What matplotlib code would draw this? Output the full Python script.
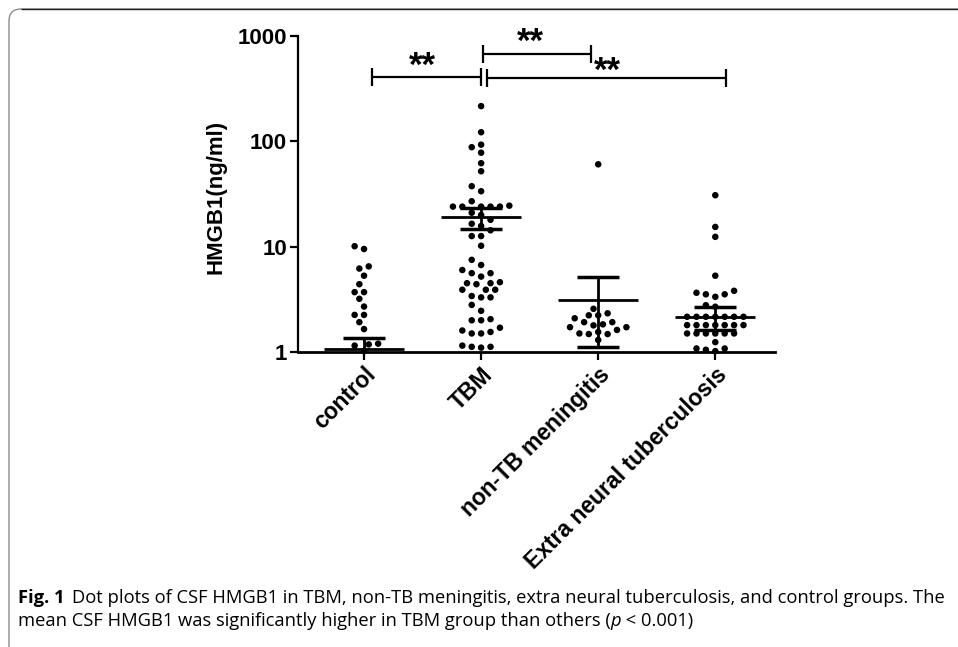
import numpy as np
import matplotlib
matplotlib.use('Agg')
import matplotlib.pyplot as plt
from matplotlib.patches import FancyBboxPatch

# ---------------- data ----------------
categories = ['control', 'TBM', 'non-TB meningitis', 'Extra neural tuberculosis']

control_vals = [10.1, 9.5, 6.5, 6.2, 5.3, 4.4, 3.7, 3.7, 3.2, 2.7, 2.25, 2.25,
                1.92, 1.65, 1.2, 1.18, 1.15, 1.02]
tbm_vals = [216, 122, 93, 88, 78, 62, 52, 37.5, 33.6, 27, 24.5, 24, 24, 24, 24, 24,
            21, 20, 18, 16.5, 15.7, 14.3, 12.6, 12.6, 10.2, 7.5, 6.7, 6.0, 5.6, 5.6,
            5.2, 4.6, 4.5, 4.4, 4.5, 3.9, 3.9, 3.9, 3.3, 3.3, 3.4, 2.8, 2.46, 2.0,
            2.0, 2.05, 1.7, 1.6, 1.5, 1.5, 1.55, 1.15, 1.12, 1.1, 1.12]
nontb_vals = [60.5, 2.57, 2.23, 2.23, 2.33, 2.09, 1.92, 1.83, 1.72, 1.72, 1.79, 1.92,
              1.62, 1.5, 1.55, 1.48, 1.48, 1.3]
extra_vals = [30.8, 15.4, 12.4, 5.3, 3.65, 3.53, 3.34, 3.53, 3.81, 2.69, 2.78,
              2.16, 2.16, 2.16, 2.16, 2.16, 2.16, 2.16,
              1.80, 1.80, 1.80, 1.80, 1.80, 1.80, 1.80,
              1.50, 1.50, 1.50, 1.50, 1.50, 1.50,
              1.24, 1.08, 1.02, 1.05, 1.08]
group_values = [control_vals, tbm_vals, nontb_vals, extra_vals]
group_means = [1.07, 19.1, 3.15, 2.16]
group_sems = [0.29, 4.4, 2.03, 0.53]

y_ticks = [1, 10, 100, 1000]
y_tick_labels = ['1', '10', '100', '1000']

sig_labels = ['**', '**', '**']

caption_bold = 'Fig. 1'
caption_line1 = 'Dot plots of CSF HMGB1 in TBM, non-TB meningitis, extra neural tuberculosis, and control groups. The'
caption_line2a = 'mean CSF HMGB1 was significantly higher in TBM group than others ('
caption_line2b = 'p'
caption_line2c = ' < 0.001)'

# ---------------- figure ----------------
W, H = 958, 647
fig = plt.figure(figsize=(W / 100, H / 100), dpi=100)

# overlay in pixel coordinates (y downwards) for border and caption
ov = fig.add_axes([0, 0, 1, 1])
ov.set_xlim(0, W)
ov.set_ylim(H, 0)
ov.axis('off')
box = FancyBboxPatch((9, 9), 1100, 655, boxstyle='round,pad=0,rounding_size=12',
                     fc='none', ec='#8c8c8c', lw=1.0)
ov.add_patch(box)
ov.plot([21, W], [9, 9], color='#222222', lw=1.0, solid_capstyle='butt')

# main axes
ax_left, ax_right, ax_top, ax_bot = 298, 775, 36, 352
ax = fig.add_axes([ax_left / W, 1 - ax_bot / H, (ax_right - ax_left) / W, (ax_bot - ax_top) / H])
ax.patch.set_visible(False)
ax.set_yscale('log')
ax.set_ylim(1, 1000)
ax.set_xlim(-0.564, 3.51)

xscale_px = (ax_right - ax_left) / (3.51 + 0.564)
yscale_px = (ax_bot - ax_top) / 3.0


def swarm_offsets(vals, diam_px=8.0, step_px=4.7):
    logs = np.log10(np.asarray(vals, dtype=float))
    order = np.argsort(logs)
    placed = []
    offs = np.zeros(len(vals))
    cands = [0.0]
    for k in range(1, 15):
        cands += [-k * step_px, k * step_px]
    for i in order:
        y = logs[i] * yscale_px
        for c in cands:
            if all((c - px) ** 2 + (y - py) ** 2 >= diam_px ** 2 for px, py in placed):
                break
        placed.append((c, y))
        offs[i] = c / xscale_px
    return offs


for gi, vals in enumerate(group_values):
    offs = swarm_offsets(vals)
    ax.scatter(gi + offs, vals, s=22, color='black', edgecolors='none', zorder=3, clip_on=False)
    m, s = group_means[gi], group_sems[gi]
    ax.plot([gi - 0.34, gi + 0.34], [m, m], color='black', lw=2.0, zorder=4, solid_capstyle='butt')
    ax.plot([gi, gi], [max(m - s, 1), m + s], color='black', lw=2.0, zorder=4, solid_capstyle='butt')
    ax.plot([gi - 0.18, gi + 0.18], [m + s, m + s], color='black', lw=2.5, zorder=4, solid_capstyle='butt')
    if m - s > 1:
        ax.plot([gi - 0.18, gi + 0.18], [m - s, m - s], color='black', lw=2.5, zorder=4, solid_capstyle='butt')

# significance brackets
brackets = [((0.068, 1.0), 404, (0.50, 415)),
            ((1.017, 1.94), 668, (1.42, 700)),
            ((1.05, 3.09), 395, (2.08, 375))]
tick_f = 10 ** (9 / yscale_px)
for (x0, x1), yv, (tx, ty) in brackets:
    ax.plot([x0, x1], [yv, yv], color='black', lw=1.6, clip_on=False, solid_capstyle='butt')
    for xx in (x0, x1):
        ax.plot([xx, xx], [yv / tick_f, yv * tick_f], color='black', lw=1.6, clip_on=False,
                solid_capstyle='butt')
for (x0x1, yv, (tx, ty)), lab in zip(brackets, sig_labels):
    ax.text(tx, ty, lab, ha='center', va='baseline', fontsize=25, fontweight='bold',
            family='Liberation Sans')

# axes styling
for sp in ('top', 'right'):
    ax.spines[sp].set_visible(False)
ax.spines['left'].set_linewidth(1.6)
ax.spines['bottom'].set_linewidth(2.0)
ax.set_yticks(y_ticks)
ax.set_yticklabels(y_tick_labels)
ax.yaxis.set_minor_locator(matplotlib.ticker.NullLocator())
ax.tick_params(axis='y', length=6, width=1.6, pad=2)
ax.tick_params(axis='x', length=6, width=1.6, pad=2)
for lab in ax.get_yticklabels():
    lab.set_fontsize(16)
    lab.set_fontweight('bold')
    lab.set_family('Liberation Sans')
ax.set_xticks(range(len(categories)))
ax.set_xticklabels(categories, rotation=45, ha='right', va='top', rotation_mode='anchor',
                   fontsize=16.5, fontweight='bold', family='Liberation Sans')
ax.set_ylabel('HMGB1(ng/ml)', fontsize=16, fontweight='bold', family='Liberation Sans')
ax.yaxis.set_label_coords(-0.15, 0.49)

# caption
fig.canvas.draw()
renderer = fig.canvas.get_renderer()


def draw_caption(fs):
    arts = []
    x = 18
    t = ov.text(x, 603, caption_bold, fontsize=fs, fontweight='bold', family='Open Sans', va='baseline')
    arts.append(t)
    x += t.get_window_extent(renderer).width + fs * 0.55
    t = ov.text(x, 603, caption_line1, fontsize=fs, family='Open Sans', va='baseline')
    arts.append(t)
    end1 = x + t.get_window_extent(renderer).width
    x = 18
    t = ov.text(x, 626, caption_line2a, fontsize=fs, family='Open Sans', va='baseline')
    arts.append(t)
    x += t.get_window_extent(renderer).width
    t = ov.text(x, 626, caption_line2b, fontsize=fs, family='Open Sans', style='italic', va='baseline')
    arts.append(t)
    x += t.get_window_extent(renderer).width
    t = ov.text(x, 626, caption_line2c, fontsize=fs, family='Open Sans', va='baseline')
    arts.append(t)
    return arts, end1


arts, end1 = draw_caption(12)
for a in arts:
    a.remove()
fs = 12 * (940 - 18) / (end1 - 18)
draw_caption(fs)

fig.savefig('out.png', dpi=100)
